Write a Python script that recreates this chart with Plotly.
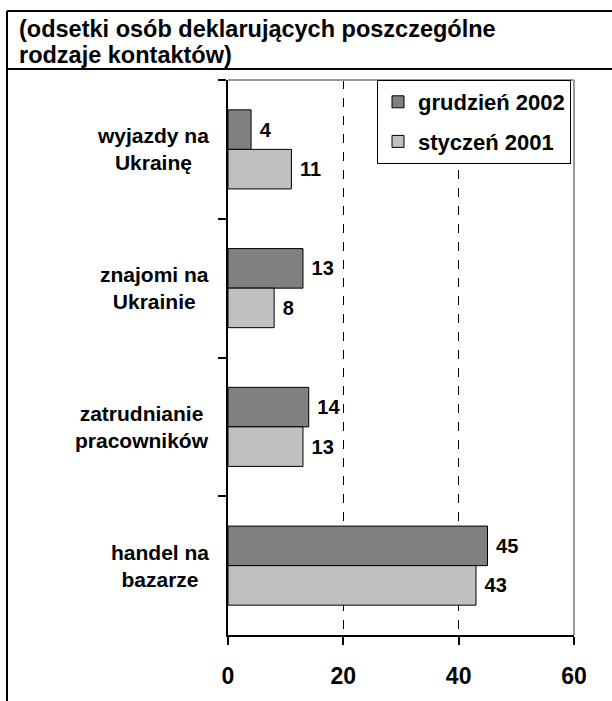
import plotly.graph_objects as go

categories = ["wyjazdy na<br>Ukrainę", "znajomi na<br>Ukrainie", "zatrudnianie<br>pracowników", "handel na<br>bazarze"]
series_names = ["grudzień 2002", "styczeń 2001"]
values_2002 = [4, 13, 14, 45]
values_2001 = [11, 8, 13, 43]
x_ticks = [0, 20, 40, 60]
title_lines = ["(odsetki osób deklarujących poszczególne", "rodzaje kontaktów)"]

FONT = "Liberation Sans, Arial, sans-serif"
W, H = 612, 701
L, R, T, B = 228, 38, 80, 66
pw, ph = W - L - R, H - T - B

def px(xp):
    return (xp - L) / pw

def py(yp):
    return (H - B - yp) / ph

fig = go.Figure()
for name, vals, col, grp in [(series_names[0], values_2002, "#808080", "a"),
                             (series_names[1], values_2001, "#c0c0c0", "b")]:
    fig.add_trace(go.Bar(
        name=name, y=categories, x=vals, orientation="h",
        marker=dict(color=col, line=dict(color="#000000", width=1)),
        text=vals, texttemplate="\u00a0%{x}", textposition="outside",
        textfont=dict(family=FONT, size=20, color="#000000"),
        cliponaxis=False, legendgroup=grp,
    ))

annotations = []
for c in categories:
    annotations.append(dict(
        x=px(211), xref="paper", y=c, yref="y", text="<b>%s</b>" % c,
        xanchor="right", yanchor="middle", align="center", showarrow=False,
        font=dict(family=FONT, size=21, color="#000000"),
    ))
for line, yc in zip(title_lines, [28.5, 54.5]):
    annotations.append(dict(
        x=px(17), xref="paper", y=py(yc), yref="paper", text="<b>%s</b>" % line,
        xanchor="left", yanchor="middle", align="left", showarrow=False,
        font=dict(family=FONT, size=23.5, color="#000000"),
    ))

shapes = [
    dict(type="line", xref="paper", yref="paper", x0=1, x1=1, y0=0, y1=1,
         line=dict(color="#9a9a9a", width=2), layer="above"),
    dict(type="line", xref="paper", yref="paper", x0=0, x1=1, y0=1, y1=1,
         line=dict(color="#9a9a9a", width=2), layer="above"),
    dict(type="line", xref="paper", yref="paper", x0=px(7), x1=px(613), y0=py(11), y1=py(11),
         line=dict(color="#000000", width=2)),
    dict(type="line", xref="paper", yref="paper", x0=px(7), x1=px(613), y0=py(69), y1=py(69),
         line=dict(color="#000000", width=2)),
    dict(type="line", xref="paper", yref="paper", x0=px(7), x1=px(7), y0=py(11), y1=py(705),
         line=dict(color="#000000", width=2)),
]

fig.update_layout(
    width=W, height=H,
    margin=dict(l=L, r=R, t=T, b=B, pad=0),
    paper_bgcolor="white", plot_bgcolor="white",
    barmode="group", bargap=0.43, bargroupgap=0,
    font=dict(family=FONT, color="#000000"),
    showlegend=True,
    legend=dict(
        x=px(377), y=1, xanchor="left", yanchor="top",
        bgcolor="white", bordercolor="#000000", borderwidth=1,
        font=dict(family=FONT, size=22, color="#000000", weight="bold"),
        traceorder="grouped", tracegroupgap=8,
    ),
    xaxis=dict(
        range=[0, 60], tickvals=x_ticks, ticktext=["<b>%d</b>" % v for v in x_ticks],
        tickfont=dict(family=FONT, size=23, color="#000000"),
        showline=True, linecolor="#000000", linewidth=2,
        ticks="outside", ticklen=8, tickwidth=2, tickcolor="#000000",
        showgrid=True, gridcolor="#000000", gridwidth=1, griddash="dash",
        zeroline=False, ticklabelstandoff=11, fixedrange=True,
    ),
    yaxis=dict(
        autorange="reversed", showticklabels=False,
        showline=True, linecolor="#000000", linewidth=2,
        ticks="outside", ticklen=8, tickwidth=2, tickcolor="#000000",
        tickson="boundaries", showgrid=False, zeroline=False, fixedrange=True,
    ),
    annotations=annotations,
    shapes=shapes,
)
fig.update_traces(textfont_weight="bold")

fig.write_html("out.html", config={"displayModeBar": False},
               post_script="document.body.style.margin='0';document.body.style.overflow='hidden';")
